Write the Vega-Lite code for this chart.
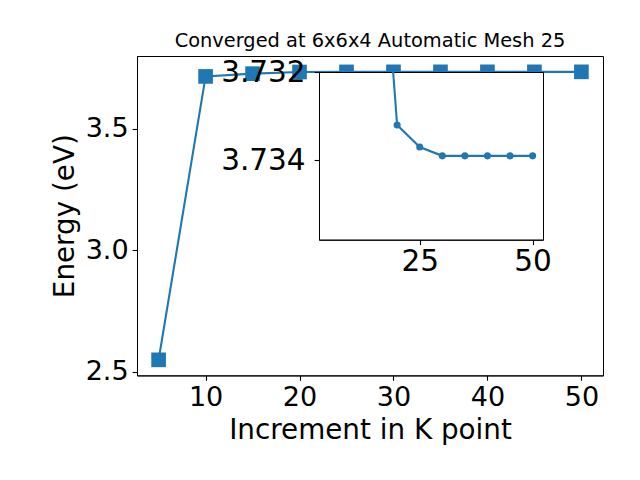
{
  "$schema": "https://vega.github.io/schema/vega-lite/v6.json",
  "padding": {"left": 50, "top": 30, "right": 5, "bottom": 5},
  "background": "white",
  "datasets": {
    "conv": [
      {"k": 5, "e": 2.55},
      {"k": 10, "e": 3.715},
      {"k": 15, "e": 3.7264},
      {"k": 20, "e": 3.7332},
      {"k": 25, "e": 3.7337},
      {"k": 30, "e": 3.7339},
      {"k": 35, "e": 3.7339},
      {"k": 40, "e": 3.7339},
      {"k": 45, "e": 3.7339},
      {"k": 50, "e": 3.7339}
    ]
  },
  "columns": 1,
  "align": "none",
  "spacing": -304,
  "bounds": "flush",
  "config": {
    "font": "DejaVu Sans",
    "view": {"stroke": "black", "strokeWidth": 1},
    "axis": {
      "grid": false,
      "domainColor": "black",
      "domainWidth": 1,
      "tickColor": "black",
      "tickSize": 4.9,
      "tickWidth": 1.1,
      "labelFont": "DejaVu Sans",
      "labelFontSize": 27,
      "labelColor": "black",
      "labelPadding": 4,
      "labelFlush": false,
      "labelOverlap": false,
      "titleFont": "DejaVu Sans",
      "titleFontSize": 27.8,
      "titleFontWeight": "normal",
      "titleColor": "black"
    },
    "axisX": {"titlePadding": 6},
    "axisY": {"titlePadding": 6}
  },
  "concat": [
    {
      "title": {"text": "Converged at 6x6x4 Automatic Mesh 25", "fontSize": 19.4, "font": "DejaVu Sans", "fontWeight": "normal", "offset": 5, "anchor": "middle", "color": "black"},
      "width": 466,
      "height": 319.4,
      "data": {"name": "conv"},
      "encoding": {
        "x": {"field": "k", "type": "quantitative", "scale": {"domain": [2.7, 52.3], "nice": false, "zero": false}, "axis": {"values": [10, 20, 30, 40, 50], "title": "Increment in K point"}},
        "y": {"field": "e", "type": "quantitative", "scale": {"domain": [2.486, 3.799], "nice": false, "zero": false}, "axis": {"values": [2.5, 3, 3.5], "format": ".1f", "title": "Energy (eV)"}}
      },
      "layer": [
        {"mark": {"type": "line", "color": "#1f77b4", "strokeWidth": 2.1}},
        {"mark": {"type": "square", "color": "#1f77b4", "filled": true, "size": 215, "opacity": 1}}
      ]
    },
    {
      "bounds": "flush",
      "columns": 2,
      "align": "none",
      "spacing": 0,
      "concat": [
        {
          "width": 182,
          "height": 1,
          "view": {"stroke": null},
          "data": {"values": [{}]},
          "mark": {"type": "point", "opacity": 0}
        },
        {
          "width": 224,
          "height": 167.7,
          "view": {"fill": "white", "stroke": "black"},
          "data": {"name": "conv"},
          "encoding": {
            "x": {"field": "k", "type": "quantitative", "scale": {"domain": [2.7, 52.3], "nice": false, "zero": false}, "axis": {"values": [25, 50], "title": null, "labelFontSize": 29.5, "labelPadding": 3}},
            "y": {"field": "e", "type": "quantitative", "scale": {"domain": [3.732, 3.7358], "nice": false, "zero": false, "reverse": true}, "axis": {"values": [3.732, 3.734], "format": ".3f", "title": null, "labelPadding": 9, "labelFontSize": 29.5}}
          },
          "layer": [
            {"mark": {"type": "line", "color": "#1f77b4", "strokeWidth": 2.1, "clip": true}},
            {"mark": {"type": "circle", "color": "#1f77b4", "size": 50, "opacity": 1, "clip": true}}
          ]
        }
      ]
    }
  ]
}
